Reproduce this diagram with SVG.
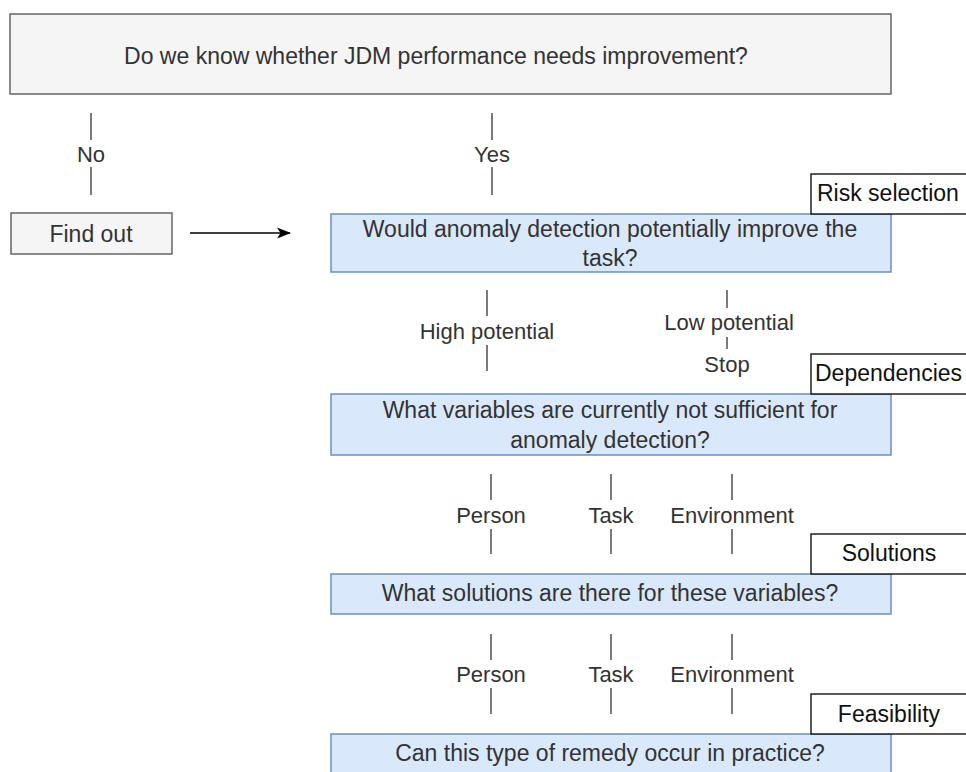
<svg xmlns="http://www.w3.org/2000/svg" width="966" height="772" viewBox="0 0 966 772">
  <defs>
    <marker id="arrow" viewBox="0 0 14 12" refX="13" refY="6" markerWidth="14" markerHeight="12" markerUnits="userSpaceOnUse" orient="auto">
      <path d="M0,0.5 L14,6 L0,11.5 L3.5,6 Z" fill="#000"/>
    </marker>
  </defs>
  <style>
    text { font-family: "Liberation Sans", Arial, sans-serif; fill: #333; }
    .q { font-size: 23px; text-anchor: middle; dominant-baseline: central; }
    .lbl { font-size: 22px; text-anchor: middle; dominant-baseline: central; }
    .tag { font-size: 23px; fill: #111; dominant-baseline: central; }
    .grey { fill: #f5f5f5; stroke: #666; stroke-width: 1.5; }
    .blue { fill: #dae8fc; stroke: #6c8ebf; stroke-width: 1.5; }
    .tagbox { fill: #fff; stroke: #000; stroke-width: 1.3; }
    .edge { stroke: #333; stroke-width: 1.3; fill: none; }
  </style>
  <rect width="966" height="772" fill="#fff"/>

  <!-- connectors with their labels -->
  <g id="connectors">
    <line class="edge" x1="91" y1="113" x2="91" y2="140"/>
    <line class="edge" x1="91" y1="167" x2="91" y2="195"/>
    <line class="edge" x1="492" y1="113" x2="492" y2="140"/>
    <line class="edge" x1="492" y1="167" x2="492" y2="195"/>
    <line x1="190" y1="233" x2="290" y2="233" stroke="#000" stroke-width="1.5" marker-end="url(#arrow)"/>

    <line class="edge" x1="487" y1="290" x2="487" y2="316"/>
    <line class="edge" x1="487" y1="345" x2="487" y2="371"/>
    <line class="edge" x1="727" y1="290" x2="727" y2="308"/>
    <line class="edge" x1="727" y1="337" x2="727" y2="349"/>

    <line class="edge" x1="491" y1="474" x2="491" y2="500"/>
    <line class="edge" x1="491" y1="529" x2="491" y2="554"/>
    <line class="edge" x1="611" y1="474" x2="611" y2="500"/>
    <line class="edge" x1="611" y1="529" x2="611" y2="554"/>
    <line class="edge" x1="732" y1="474" x2="732" y2="500"/>
    <line class="edge" x1="732" y1="529" x2="732" y2="554"/>

    <line class="edge" x1="491" y1="634" x2="491" y2="660"/>
    <line class="edge" x1="491" y1="688" x2="491" y2="714"/>
    <line class="edge" x1="611" y1="634" x2="611" y2="660"/>
    <line class="edge" x1="611" y1="688" x2="611" y2="714"/>
    <line class="edge" x1="732" y1="634" x2="732" y2="660"/>
    <line class="edge" x1="732" y1="688" x2="732" y2="714"/>

    <text class="lbl" x="91" y="154">No</text>
    <text class="lbl" x="492" y="154">Yes</text>
    <text class="lbl" x="487" y="331">High potential</text>
    <text class="lbl" x="729" y="322">Low potential</text>
    <text class="lbl" x="727" y="364">Stop</text>
    <text class="lbl" x="491" y="515">Person</text>
    <text class="lbl" x="611" y="515">Task</text>
    <text class="lbl" x="732" y="515">Environment</text>
    <text class="lbl" x="491" y="674">Person</text>
    <text class="lbl" x="611" y="674">Task</text>
    <text class="lbl" x="732" y="674">Environment</text>
  </g>

  <g id="start">
    <rect class="grey" x="10" y="14" width="881" height="80"/>
    <text class="q" x="436" y="56">Do we know whether JDM performance needs improvement?</text>
  </g>

  <g id="find-out">
    <rect class="grey" x="11" y="213" width="161" height="41"/>
    <text class="q" x="91" y="234">Find out</text>
  </g>

  <g id="potential">
    <rect class="blue" x="331" y="214" width="560" height="58"/>
    <text class="q" x="610" y="229">Would anomaly detection potentially improve the</text>
    <text class="q" x="610" y="258">task?</text>
  </g>

  <g id="variables">
    <rect class="blue" x="331" y="394" width="560" height="61"/>
    <text class="q" x="610" y="410">What variables are currently not sufficient for</text>
    <text class="q" x="610" y="440">anomaly detection?</text>
  </g>

  <g id="solutions">
    <rect class="blue" x="331" y="574" width="560" height="40"/>
    <text class="q" x="610" y="593">What solutions are there for these variables?</text>
  </g>

  <g id="remedy">
    <rect class="blue" x="331" y="734" width="560" height="60"/>
    <text class="q" x="610" y="753">Can this type of remedy occur in practice?</text>
  </g>

  <g id="tag-risk">
    <rect class="tagbox" x="811" y="174" width="170" height="40"/>
    <text class="tag" x="817" y="193">Risk selection</text>
  </g>

  <g id="tag-dependencies">
    <rect class="tagbox" x="811" y="354" width="170" height="40"/>
    <text class="tag" x="815" y="373">Dependencies</text>
  </g>

  <g id="tag-solutions">
    <rect class="tagbox" x="811" y="534" width="170" height="40"/>
    <text class="tag" x="889" y="553" text-anchor="middle">Solutions</text>
  </g>

  <g id="tag-feasibility">
    <rect class="tagbox" x="811" y="694" width="170" height="40"/>
    <text class="tag" x="889" y="714" text-anchor="middle">Feasibility</text>
  </g>
</svg>
